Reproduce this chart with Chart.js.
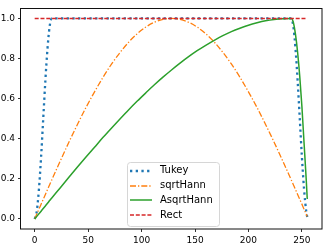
<!DOCTYPE html>
<html>
<head>
<meta charset="utf-8">
<script src="https://cdn.jsdelivr.net/npm/chart.js@4/dist/chart.umd.min.js"></script>
<style>
  html, body { margin: 0; padding: 0; background: #fff; }
  canvas { display: block; }
</style>
</head>
<body>
<canvas id="win" width="327" height="245"></canvas>
<script>
// ==================== DATA ====================
const sampleIdx = [0, 2, 4, 6, 8, 10, 12, 14, 16, 24, 32, 40, 48, 56, 64, 72, 80, 88, 96, 104,
  112, 120, 128, 136, 144, 152, 160, 168, 176, 184, 192, 200, 208, 216, 224, 232,
  240, 242, 244, 246, 248, 250, 252, 254, 255];

const tukey = [0, 0.04, 0.15, 0.31, 0.5, 0.69, 0.85, 0.96, 1, 1, 1, 1, 1, 1, 1, 1, 1, 1, 1, 1,
  1, 1, 1, 1, 1, 1, 1, 1, 1, 1, 1, 1, 1, 1, 1, 1,
  1, 0.96, 0.85, 0.69, 0.5, 0.31, 0.15, 0.04, 0.01];

const sqrtHann = [0, 0.025, 0.049, 0.074, 0.098, 0.122, 0.147, 0.171, 0.195, 0.29, 0.383, 0.471, 0.556, 0.634, 0.707, 0.773, 0.831, 0.882, 0.924, 0.957,
  0.981, 0.995, 1, 0.995, 0.981, 0.957, 0.924, 0.882, 0.831, 0.773, 0.707, 0.634, 0.556, 0.471, 0.383, 0.29,
  0.195, 0.171, 0.147, 0.122, 0.098, 0.074, 0.049, 0.025, 0.012];

const asqrtHann = [0, 0.013, 0.026, 0.039, 0.052, 0.065, 0.078, 0.092, 0.105, 0.156, 0.208, 0.259, 0.309, 0.358, 0.407, 0.454, 0.5, 0.545, 0.588, 0.629,
  0.669, 0.707, 0.743, 0.777, 0.809, 0.839, 0.866, 0.891, 0.914, 0.934, 0.951, 0.966, 0.978, 0.988, 0.995, 0.999,
  1, 0.98, 0.92, 0.83, 0.71, 0.56, 0.38, 0.2, 0.1];

const rect = [1, 1, 1, 1, 1, 1, 1, 1, 1, 1, 1, 1, 1, 1, 1, 1, 1, 1, 1, 1,
  1, 1, 1, 1, 1, 1, 1, 1, 1, 1, 1, 1, 1, 1, 1, 1,
  1, 1, 1, 1, 1, 1, 1, 1, 1];

const seriesNames = ['Tukey', 'sqrtHann', 'AsqrtHann', 'Rect'];
const xTicks = [0, 50, 100, 150, 200, 250];
const yTicks = [0.0, 0.2, 0.4, 0.6, 0.8, 1.0];

// ==================== HELPERS ====================
function pts(ys){ return sampleIdx.map((x, i) => ({x: x, y: ys[i]})); }

const FONT = 'DejaVu Sans';

// box around plot + legend inside, like matplotlib
const framePlugin = {
  id: 'frame',
  afterDraw(chart){
    const {ctx, chartArea: a} = chart;
    ctx.save();
    ctx.strokeStyle = '#111';
    ctx.lineWidth = 1;
    ctx.strokeRect(Math.round(a.left) - 0.5, Math.round(a.top) + 0.5,
      Math.round(a.right - a.left) + 0.5, Math.round(a.bottom - a.top) - 0.5);

    // legend
    const bx = 127, by = 162, bw = 92, bh = 64;
    ctx.beginPath();
    ctx.roundRect(bx + 0.5, by + 0.5, bw, bh, 3);
    ctx.fillStyle = 'rgba(255,255,255,0.8)';
    ctx.fill();
    ctx.strokeStyle = '#d6d6d6';
    ctx.lineWidth = 1;
    ctx.stroke();

    ctx.font = '10px "' + FONT + '"';
    ctx.textBaseline = 'middle';
    ctx.textAlign = 'left';
    const rows = [170.5, 185.5, 200, 215];
    chart.data.datasets.forEach((ds, i) => {
      const y = Math.round(rows[i]);
      ctx.beginPath();
      ctx.setLineDash(ds.borderDash || []);
      ctx.lineWidth = ds.borderWidth;
      ctx.strokeStyle = ds.borderColor;
      ctx.lineCap = 'butt';
      ctx.moveTo(130, y);
      ctx.lineTo(152, y);
      ctx.stroke();
      ctx.setLineDash([]);
      ctx.fillStyle = '#000';
      ctx.fillText(ds.label, 160, rows[i]);
    });
    ctx.restore();
  }
};

// ==================== CHART ====================
const ctx = document.getElementById('win').getContext('2d');
new Chart(ctx, {
  type: 'line',
  data: {
    datasets: [
      { label: seriesNames[0], data: pts(tukey), borderColor: '#1f77b4', borderWidth: 2.3,
        borderDash: [2.3, 3.4], order: 4 },
      { label: seriesNames[1], data: pts(sqrtHann), borderColor: '#ff7f0e', borderWidth: 1.3,
        borderDash: [6, 2, 1.3, 2], order: 3 },
      { label: seriesNames[2], data: pts(asqrtHann), borderColor: '#2ca02c', borderWidth: 1.5,
        order: 2 },
      { label: seriesNames[3], data: pts(rect), borderColor: '#d62728', borderWidth: 1.5,
        borderDash: [4, 1.8], order: 1 }
    ]
  },
  options: {
    responsive: false,
    animation: false,
    devicePixelRatio: 1,
    layout: { padding: { top: 3, right: 5, left: 0, bottom: 0 } },
    elements: {
      point: { radius: 0 },
      line: { tension: 0, cubicInterpolationMode: 'monotone', borderCapStyle: 'butt', fill: false }
    },
    plugins: { legend: { display: false }, tooltip: { enabled: false } },
    scales: {
      x: {
        type: 'linear', min: -12.8, max: 268.8,
        afterFit(s){ s.height = 16; },
        afterBuildTicks(s){ s.ticks = xTicks.map(v => ({value: v})); },
        grid: { display: true, drawOnChartArea: false, drawTicks: true, tickLength: 3, color: '#000', lineWidth: 0.8 },
        border: { display: false },
        ticks: { color: '#000', font: { family: FONT, size: 9 }, padding: 3, maxRotation: 0,
          callback: v => String(v) }
      },
      y: {
        type: 'linear', min: -0.05, max: 1.05,
        afterFit(s){ s.width = 21; },
        afterBuildTicks(s){ s.ticks = yTicks.map(v => ({value: v})); },
        grid: { display: true, drawOnChartArea: false, drawTicks: true, tickLength: 3, color: '#000', lineWidth: 0.8 },
        border: { display: false },
        ticks: { color: '#000', font: { family: FONT, size: 9 }, padding: 3,
          callback: v => Number(v).toFixed(1) }
      }
    }
  },
  plugins: [framePlugin]
});
</script>
</body>
</html>
